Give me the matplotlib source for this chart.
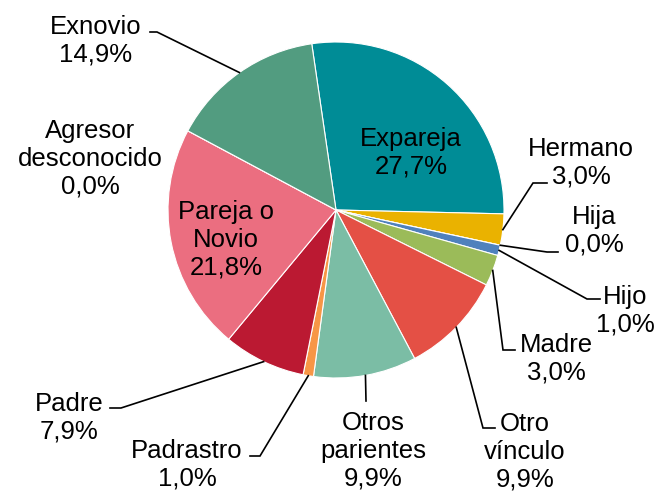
import matplotlib
matplotlib.use("Agg")
import matplotlib.pyplot as plt
import numpy as np

# ── Data ──────────────────────────────────────────────────────────────────────
categories = ["Expareja", "Hermano", "Hija", "Hijo", "Madre", "Otro\nvínculo",
              "Otros\nparientes", "Padrastro", "Padre", "Pareja o\nNovio",
              "Agresor\ndesconocido", "Exnovio"]
values = [27.7, 3.0, 0.0, 1.0, 3.0, 9.9, 9.9, 1.0, 7.9, 21.8, 0.0, 14.9]
colors = ["#008C96", "#EAB200", "#C0504D", "#4F81BD", "#9BBB59", "#E45045",
          "#7BBDA5", "#F79646", "#BB1932", "#EB6E80", "#8064A2", "#529C80"]

# ── Layout (pixel coords of the 670x493 canvas) ─────────────────────────────
W, H = 670, 493
CX, CY, R = 336, 210, 168
label_pos = [(411, 150), (581, 160), (594, 228), (625, 308), (556, 356),
             (525, 449), (373, 448), (187, 462), (69, 415), (226, 237),
             (90, 156), (96, 38)]
leader_elbow = [None, (533, 183), (547, 252), (587, 299), (503, 350),
                (483, 428), (366, 401), (260, 456), (121, 408), None,
                None, (157, 32)]
leader_end = [None, (547, 183), (558, 252), (600, 299), (515, 350),
              (495, 428), (366, 401), (250, 456), (110, 408), None,
              None, (150, 32)]


def to_data(x, y):
    return (x - CX) / R, (CY - y) / R


plt.rcParams["font.family"] = ["Liberation Sans", "DejaVu Sans"]

fig = plt.figure(figsize=(W / 100, H / 100), dpi=100)
ax = fig.add_axes([0, 0, 1, 1])

wedges, _ = ax.pie(values, colors=colors, startangle=98.3, counterclock=False,
                   radius=1, center=(0, 0),
                   wedgeprops={"edgecolor": "white", "linewidth": 0.8})

ax.set_xlim(-CX / R, (W - CX) / R)
ax.set_ylim((CY - H) / R, CY / R)
ax.set_aspect("equal")
ax.axis("off")

for i, w in enumerate(wedges):
    pct = f"{values[i]:.1f}".replace(".", ",") + "%"
    tx, ty = to_data(*label_pos[i])
    ax.text(tx, ty - 3 / R, f"{categories[i]}\n{pct}", ha="center", va="center",
            fontsize=18.5, color="black", linespacing=1.2)
    if leader_elbow[i] is not None:
        mid = np.deg2rad((w.theta1 + w.theta2) / 2)
        sx, sy = np.cos(mid), np.sin(mid)
        ex, ey = to_data(*leader_elbow[i])
        fx, fy = to_data(*leader_end[i])
        ax.plot([sx, ex, fx], [sy, ey, fy], color="black", lw=1.2,
                solid_joinstyle="miter")

fig.savefig("out.png", dpi=100)
